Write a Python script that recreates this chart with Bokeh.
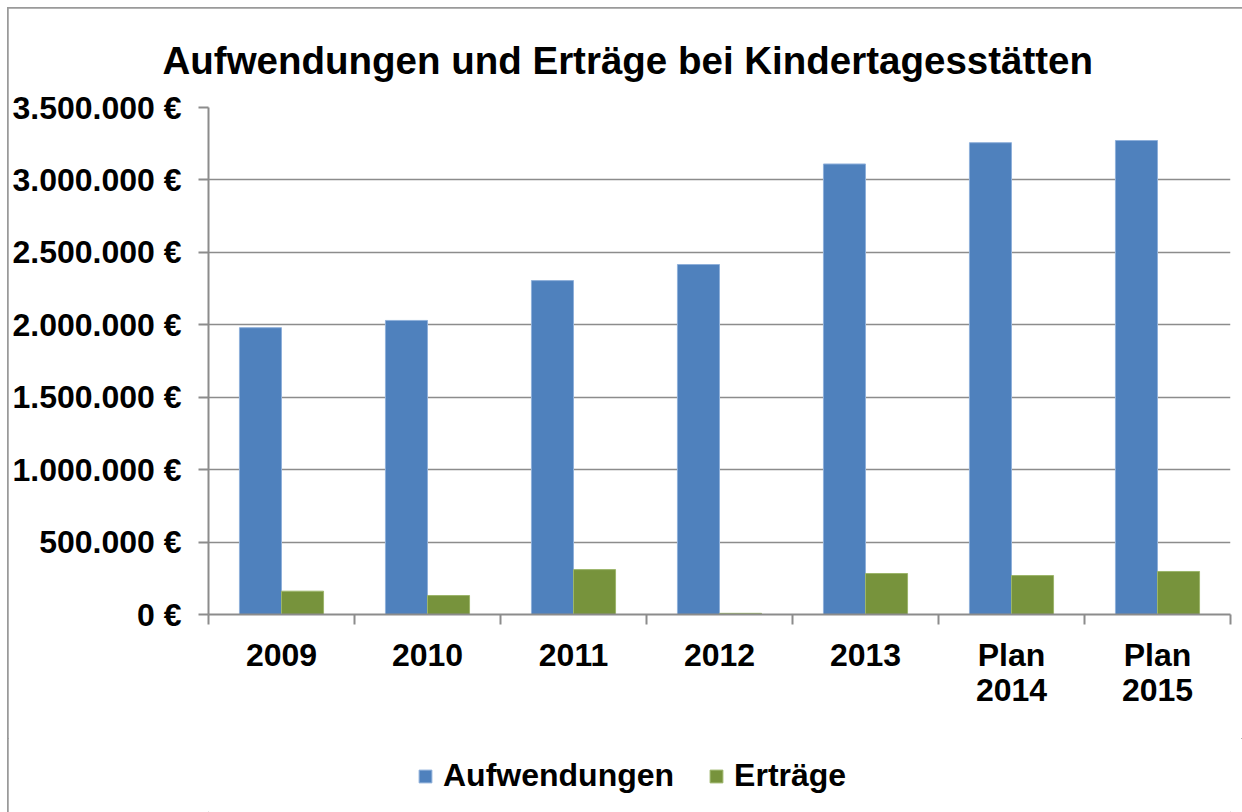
from bokeh.plotting import figure
from bokeh.layouts import column
from bokeh.models import (FactorRange, Range1d, LinearAxis, CategoricalAxis,
                          FixedTicker, ColumnDataSource, Legend, LegendItem)
from bokeh.transform import dodge
from bokeh.embed import file_html
from bokeh.resources import INLINE

# ---- data ----
categories = ["2009", "2010", "2011", "2012", "2013", "Plan\n2014", "Plan\n2015"]
aufwendungen = [1980000, 2030000, 2305000, 2416000, 3110000, 3257000, 3272000]
ertraege = [161000, 131000, 310000, 8000, 283000, 269000, 297000]
series_names = ["Aufwendungen", "Erträge"]
y_ticks = [0, 500000, 1000000, 1500000, 2000000, 2500000, 3000000, 3500000]
y_tick_labels = ["0 €", "500.000 €", "1.000.000 €", "1.500.000 €", "2.000.000 €",
                 "2.500.000 €", "3.000.000 €", "3.500.000 €"]
title_text = "Aufwendungen und Erträge bei Kindertagesstätten"

FONT = "Liberation Sans"
GRAY = "#8c8c8c"
BLUE = "#4F81BD"
GREEN = "#77933C"
W = 1234

# ---- main chart ----
p = figure(width=W, height=730,
           x_range=FactorRange(*categories, range_padding=0),
           y_range=Range1d(0, y_ticks[-1]),
           output_backend="svg", toolbar_location=None,
           x_axis_location=None,
           min_border_left=200, min_border_right=12,
           min_border_top=99, min_border_bottom=124)
p.outline_line_color = None
p.xgrid.grid_line_color = None
p.ygrid.grid_line_color = GRAY
p.ygrid.grid_line_width = 1.5

p.title.text = title_text
p.title.text_font = FONT
p.title.text_font_size = "38.5px"
p.title.text_font_style = "bold"
p.title.text_color = "black"
p.title.align = "left"
p.title.offset = -46
p.title.standoff = 52

ya = p.yaxis[0]
ya.ticker = FixedTicker(ticks=y_ticks)
ya.major_label_overrides = dict(zip(y_ticks, y_tick_labels))
ya.major_tick_out = 10
ya.major_tick_in = 0
ya.minor_tick_out = 0
ya.minor_tick_in = 0
ya.axis_line_color = GRAY
ya.axis_line_width = 2
ya.major_tick_line_color = GRAY
ya.major_tick_line_width = 2
ya.major_label_text_font = FONT
ya.major_label_text_font_size = "32px"
ya.major_label_text_font_style = "bold"
ya.major_label_text_color = "black"
ya.major_label_standoff = 17

# ticks at category boundaries (synthetic coordinates) + category labels
tick_axis = LinearAxis(ticker=FixedTicker(ticks=list(range(len(categories) + 1))),
                       major_tick_out=10, major_tick_in=0,
                       minor_tick_out=0, minor_tick_in=0,
                       major_label_text_font_size="0px",
                       major_label_text_alpha=0,
                       major_label_standoff=0,
                       axis_line_color=GRAY, axis_line_width=2,
                       major_tick_line_color=GRAY, major_tick_line_width=2)
p.add_layout(tick_axis, "below")

cat_axis = CategoricalAxis(major_tick_line_color=None, axis_line_color=None,
                           major_tick_out=0, major_tick_in=0,
                           major_label_text_font=FONT,
                           major_label_text_font_size="32px",
                           major_label_text_font_style="bold",
                           major_label_text_color="black",
                           major_label_text_line_height=0.98,
                           major_label_standoff=12)
p.add_layout(cat_axis, "below")

src = ColumnDataSource(dict(cat=categories, a=aufwendungen, e=ertraege))
bw = 0.288
bar_styles = [dict(fill_color=BLUE, line_color="#8FB0DA"),
              dict(fill_color=GREEN, line_color="#9CB56A")]
for col, off, st in zip(["a", "e"], [-bw / 2, bw / 2], bar_styles):
    p.vbar(x=dodge("cat", off, range=p.x_range), top=col, width=bw, source=src,
           line_width=1, **st)

# ---- legend strip (its frame is aligned with the chart's frame) ----
lf = figure(width=W, height=74, x_range=p.x_range, y_range=Range1d(1e9, 2e9),
            output_backend="svg", toolbar_location=None,
            x_axis_location=None, y_axis_location=None,
            min_border=0, min_border_left=0, min_border_right=0,
            min_border_top=0, min_border_bottom=0)
lf.outline_line_color = None
lf.grid.visible = False
lr = []
for col, off, st in zip(["a", "e"], [-bw / 2, bw / 2], bar_styles):
    lr.append(lf.vbar(x=dodge("cat", off, range=p.x_range), top=col, width=bw,
                      source=src, line_width=1, **st))
leg = Legend(items=[LegendItem(label=n, renderers=[r]) for n, r in zip(series_names, lr)],
             location=(209, 18), orientation="horizontal",
             padding=0, margin=0, spacing=34,
             glyph_width=16, glyph_height=16, label_standoff=10,
             label_text_font=FONT, label_text_font_size="32px",
             label_text_font_style="bold", label_text_color="black",
             border_line_color=None, background_fill_alpha=0)
lf.add_layout(leg)

layout = column(p, lf, spacing=0)
layout.styles = {"margin-left": "8px", "margin-top": "8px",
                 "outline": "2px solid #9a9a9a", "outline-offset": "-1px"}

open("out.html", "w").write(file_html(layout, INLINE))
